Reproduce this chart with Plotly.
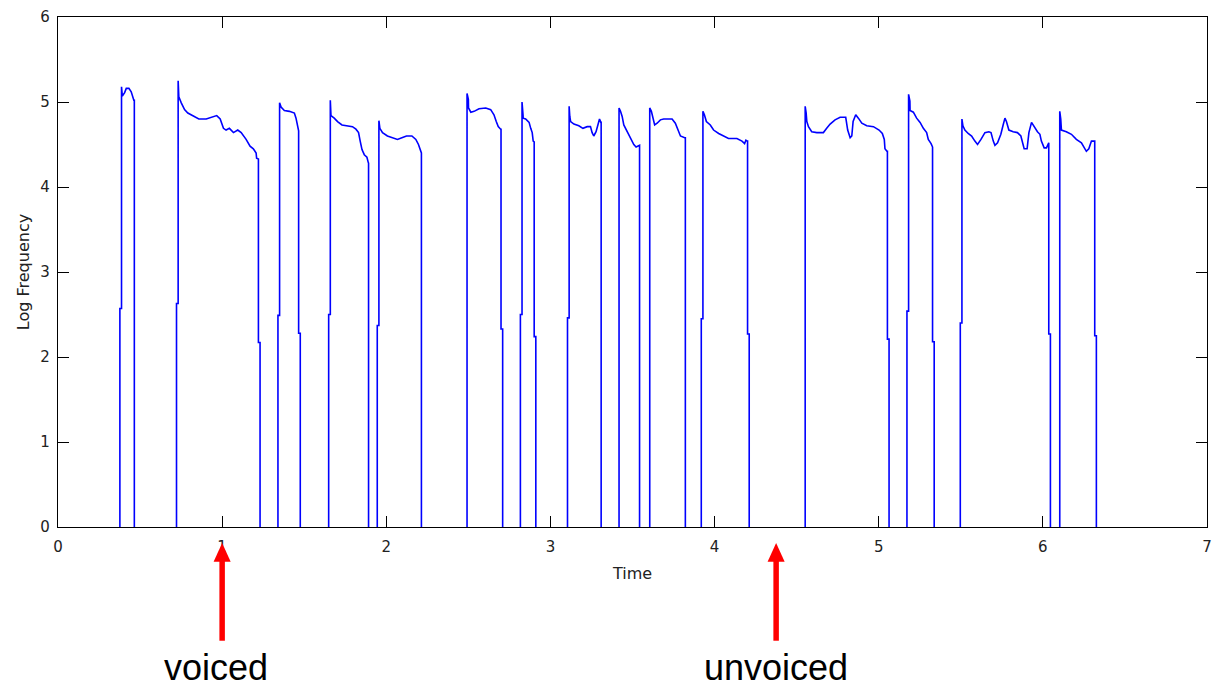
import plotly.graph_objects as go

# ---- data: pitch track (log frequency) of each voiced segment ----
contour_times = [
    [0.387, 0.392, 0.406, 0.416, 0.432, 0.446, 0.453, 0.462, 0.465],
    [0.732, 0.736, 0.751, 0.771, 0.791, 0.821, 0.858, 0.903, 0.943, 0.967, 0.988, 1.008, 1.024, 1.044,
     1.069, 1.095, 1.116, 1.146, 1.170, 1.190, 1.207, 1.210, 1.221],
    [1.350, 1.359, 1.379, 1.410, 1.440, 1.450, 1.460, 1.464, 1.466],
    [1.659, 1.663, 1.683, 1.703, 1.730, 1.764, 1.794, 1.815, 1.831, 1.841, 1.852, 1.866, 1.882, 1.890, 1.892],
    [1.955, 1.961, 1.977, 2.007, 2.038, 2.068, 2.095, 2.123, 2.156, 2.180, 2.196, 2.210, 2.214],
    [2.492, 2.500, 2.501, 2.515, 2.535, 2.565, 2.606, 2.636, 2.656, 2.670, 2.682, 2.697, 2.699],
    [2.827, 2.833, 2.834, 2.849, 2.870, 2.880, 2.889, 2.895, 2.901],
    [3.114, 3.118, 3.123, 3.143, 3.173, 3.198, 3.224, 3.244, 3.254, 3.264, 3.278, 3.295, 3.299, 3.307, 3.309],
    [3.418, 3.427, 3.437, 3.447, 3.467, 3.488, 3.508, 3.522, 3.538, 3.543],
    [3.605, 3.615, 3.623, 3.635, 3.650, 3.670, 3.690, 3.741, 3.761, 3.777, 3.792, 3.818, 3.822],
    [3.929, 3.938, 3.950, 3.974, 3.994, 4.025, 4.055, 4.085, 4.136, 4.167, 4.183, 4.191, 4.200, 4.201],
    [4.552, 4.558, 4.562, 4.572, 4.592, 4.623, 4.663, 4.683, 4.704, 4.734, 4.765, 4.799, 4.811, 4.826,
     4.836, 4.844, 4.860, 4.876, 4.897, 4.927, 4.968, 5.002, 5.022, 5.034, 5.038, 5.050, 5.053],
    [5.182, 5.190, 5.191, 5.211, 5.231, 5.252, 5.272, 5.292, 5.302, 5.319, 5.327, 5.328],
    [5.507, 5.513, 5.525, 5.545, 5.566, 5.586, 5.602, 5.623, 5.647, 5.671, 5.684, 5.698, 5.708, 5.724,
     5.744, 5.758, 5.769, 5.778, 5.793, 5.819, 5.845, 5.866, 5.880, 5.886, 5.904, 5.915, 5.931, 5.947,
     5.967, 5.982, 5.991, 6.008, 6.022, 6.036],
    [6.103, 6.109, 6.113, 6.143, 6.174, 6.204, 6.235, 6.265, 6.280, 6.296, 6.312, 6.316],
]

contour_logf = [
    [5.18, 5.07, 5.11, 5.16, 5.16, 5.12, 5.07, 5.02, 5.02],
    [5.25, 5.06, 4.99, 4.91, 4.87, 4.84, 4.80, 4.80, 4.83, 4.84, 4.80, 4.69, 4.67, 4.69, 4.64, 4.67,
     4.64, 4.56, 4.48, 4.45, 4.40, 4.34, 4.33],
    [4.99, 4.94, 4.90, 4.89, 4.87, 4.81, 4.73, 4.67, 4.66],
    [5.02, 4.84, 4.81, 4.77, 4.73, 4.72, 4.71, 4.68, 4.64, 4.54, 4.44, 4.38, 4.35, 4.29, 4.28],
    [4.78, 4.69, 4.64, 4.60, 4.58, 4.56, 4.58, 4.60, 4.60, 4.56, 4.50, 4.41, 4.40],
    [5.10, 5.03, 4.93, 4.88, 4.89, 4.92, 4.93, 4.91, 4.85, 4.77, 4.71, 4.68, 4.68],
    [5.00, 4.85, 4.81, 4.80, 4.76, 4.69, 4.64, 4.54, 4.53],
    [4.95, 4.83, 4.77, 4.74, 4.72, 4.69, 4.71, 4.71, 4.64, 4.60, 4.65, 4.75, 4.80, 4.76, 4.76],
    [4.93, 4.89, 4.83, 4.73, 4.65, 4.58, 4.50, 4.47, 4.49, 4.49],
    [4.93, 4.89, 4.83, 4.73, 4.75, 4.79, 4.80, 4.80, 4.75, 4.67, 4.60, 4.58, 4.58],
    [4.89, 4.85, 4.77, 4.73, 4.67, 4.63, 4.60, 4.57, 4.57, 4.54, 4.51, 4.55, 4.54, 4.54],
    [4.95, 4.87, 4.77, 4.71, 4.65, 4.64, 4.64, 4.69, 4.74, 4.79, 4.82, 4.82, 4.67, 4.58, 4.60, 4.77,
     4.85, 4.81, 4.75, 4.72, 4.71, 4.67, 4.63, 4.56, 4.45, 4.42, 4.42],
    [5.09, 5.01, 4.90, 4.88, 4.81, 4.76, 4.69, 4.64, 4.56, 4.51, 4.47, 4.47],
    [4.80, 4.72, 4.67, 4.63, 4.60, 4.54, 4.50, 4.56, 4.64, 4.65, 4.64, 4.54, 4.49, 4.52, 4.62, 4.73,
     4.81, 4.77, 4.67, 4.65, 4.64, 4.60, 4.50, 4.45, 4.45, 4.64, 4.76, 4.71, 4.65, 4.62, 4.54, 4.46,
     4.46, 4.52],
    [4.89, 4.80, 4.67, 4.65, 4.62, 4.56, 4.52, 4.42, 4.45, 4.54, 4.54, 4.54],
]

# intermediate smoothing step at voicing onset / offset (None = direct jump)
onset_step = [2.57, 2.63, 2.49, 2.50, 2.37, None, 2.50, 2.46, None, None, 2.45, None, 2.54, 2.40, None]
offset_step = [None, 2.17, 2.28, None, None, 2.33, 2.24, None, None, None, 2.27, 2.21, 2.18, 2.27, 2.25]
step_width = 0.01  # one analysis frame

x_ticks = [0, 1, 2, 3, 4, 5, 6, 7]
y_ticks = [0, 1, 2, 3, 4, 5, 6]

arrow_times = [1.0, 4.375]
arrow_labels = ["voiced", "unvoiced"]
label_times = [0.965, 4.372]

# ---- build one trace, broken between segments ----
xs, ys = [], []
for t, v, on, off in zip(contour_times, contour_logf, onset_step, offset_step):
    if on is not None:
        xs += [t[0] - step_width, t[0] - step_width, t[0]]
        ys += [0, on, on]
    else:
        xs += [t[0]]
        ys += [0]
    xs += t
    ys += v
    if off is not None:
        xs += [t[-1], t[-1] + step_width, t[-1] + step_width]
        ys += [off, off, 0]
    else:
        xs += [t[-1]]
        ys += [0]
    xs.append(None)
    ys.append(None)

fig = go.Figure()
fig.add_trace(go.Scatter(x=xs, y=ys, mode="lines", connectgaps=False,
                         line=dict(color="#0000FF", width=1.6),
                         hoverinfo="skip", showlegend=False))

tick_font = dict(family="DejaVu Sans, Arial, sans-serif", size=15, color="#222222")
title_font = dict(family="DejaVu Sans, Arial, sans-serif", size=16, color="#222222")

common_axis = dict(ticks="inside", ticklen=11, tickwidth=1, tickcolor="black",
                   showline=True, linecolor="black", linewidth=1.3, mirror="ticks",
                   showgrid=False, zeroline=False, tickfont=tick_font, layer="above traces")

fig.update_xaxes(range=[0, 7], tickvals=x_ticks, ticklabelstandoff=6,
                 title=dict(text="Time", font=title_font, standoff=12), **common_axis)
fig.update_yaxes(range=[0, 6], tickvals=y_ticks, ticklabelstandoff=4,
                 title=dict(text="Log Frequency", font=title_font, standoff=6), **common_axis)

shapes = []
for at in arrow_times:
    shapes.append(dict(type="line", xref="x", yref="paper", x0=at, x1=at, y0=-0.223, y1=-0.06,
                       line=dict(color="#FF0000", width=5.5)))
    shapes.append(dict(type="path", xref="x", yref="paper",
                       path=f"M {at - 0.052},-0.068 L {at + 0.052},-0.068 L {at},-0.0314 Z",
                       fillcolor="#FF0000", line=dict(width=0)))

annotations = []
for lt, lab in zip(label_times, arrow_labels):
    annotations.append(dict(x=lt, xref="x", y=-0.276, yref="paper", text=lab, showarrow=False,
                            xanchor="center", yanchor="middle",
                            font=dict(family="Liberation Sans, Arial, sans-serif",
                                      size=36, color="black")))

fig.update_layout(width=1217, height=691, autosize=False,
                  margin=dict(l=58, r=5, t=17, b=164, pad=0),
                  paper_bgcolor="white", plot_bgcolor="white",
                  shapes=shapes, annotations=annotations, showlegend=False)

fig.write_html("out.html")
